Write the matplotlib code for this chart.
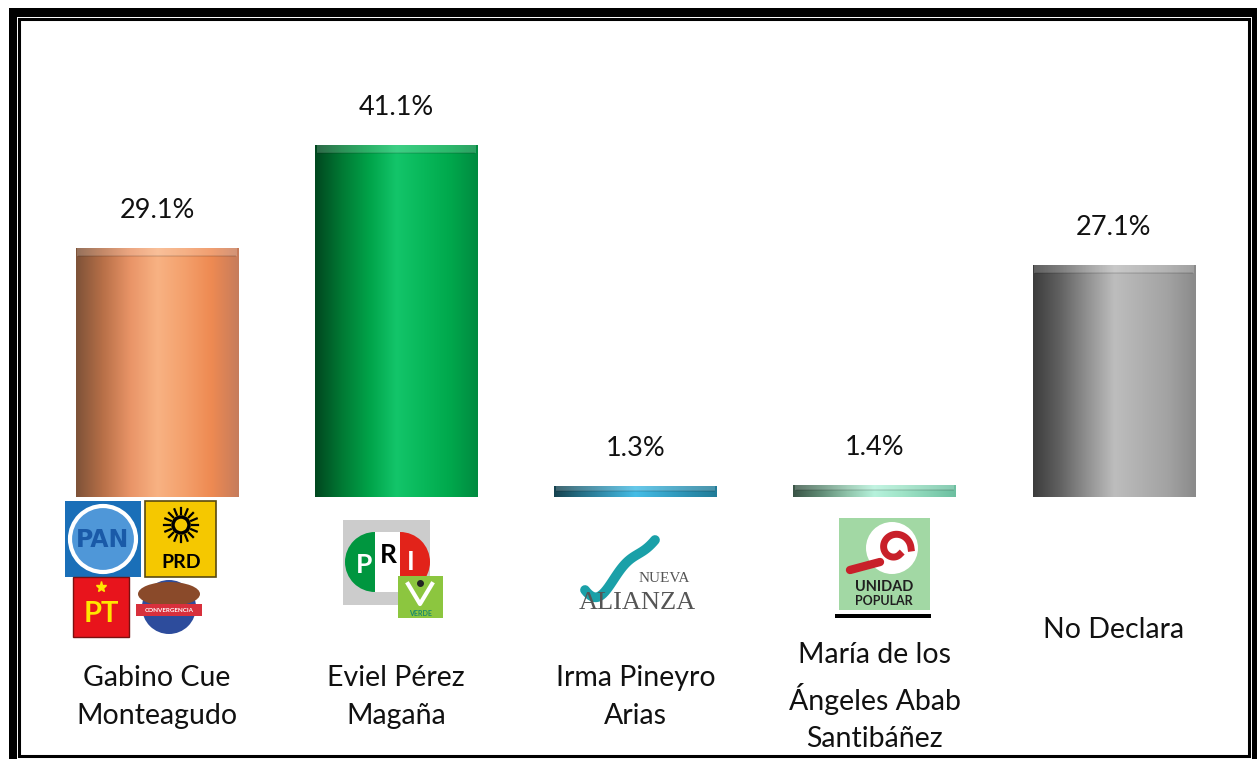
import numpy as np
import matplotlib
matplotlib.use("Agg")
import matplotlib.pyplot as plt
import matplotlib.transforms as mtransforms
from matplotlib.colors import LinearSegmentedColormap
from matplotlib.patches import Rectangle, Circle, Wedge, Ellipse

plt.rcParams['font.family'] = ['Lato', 'DejaVu Sans']

# data
candidatos = ['Gabino Cue\nMonteagudo', 'Eviel Pérez\nMagaña', 'Irma Pineyro\nArias',
              'María de los\nÁngeles Abab\nSantibáñez', 'No Declara']
porcentajes = [29.1, 41.1, 1.3, 1.4, 27.1]
etiquetas = ['29.1%', '41.1%', '1.3%', '1.4%', '27.1%']

# shading of each cylinder, left to right
gradientes = [
    ['#7e5238', '#b87048', '#e99467', '#f8b283', '#f4a06c', '#ee8a52', '#c67c5c'],
    ['#00471f', '#007a34', '#00a349', '#13c56a', '#08b85a', '#00a84c', '#008a40'],
    ['#16424f', '#256f86', '#3596b7', '#45bde6', '#37a6cb', '#2b8fb0', '#217c98'],
    ['#3a5446', '#5f8a74', '#8fc4aa', '#b6f2dc', '#a0e4c8', '#86d2b4', '#6cbfa0'],
    ['#3c3c3c', '#626262', '#919191', '#bdbdbd', '#b0b0b0', '#a2a2a2', '#8a8a8a'],
]

W, H = 1257, 759
fig = plt.figure(figsize=(W / 100, H / 100), dpi=100)

# overlay in pixel coordinates for frame and logos
ov = fig.add_axes([0, 0, 1, 1])
ov.set_xlim(0, W)
ov.set_ylim(H, 0)
ov.axis('off')

base_px = 497
top_px = 19
px_per_pct = 8.56
ax = fig.add_axes([37.5 / W, (H - base_px) / H, 1196 / W, (base_px - top_px) / H])
ax.set_xlim(-0.5, 4.5)
ax.set_ylim(0, (base_px - top_px) / px_per_pct)
ax.axis('off')
ax.patch.set_alpha(0)

x = np.arange(len(candidatos))
bars = ax.bar(x, porcentajes, width=0.68, color='none', edgecolor='none')

for b, cols in zip(bars, gradientes):
    cmap = LinearSegmentedColormap.from_list('g', cols)
    grad = np.linspace(0, 1, 256).reshape(1, -1)
    x0, y0 = b.get_x(), b.get_y()
    w, h = b.get_width(), b.get_height()
    im = ax.imshow(grad, cmap=cmap, aspect='auto', extent=(x0, x0 + w, y0, y0 + h),
                   interpolation='bicubic', zorder=2)
    im.set_clip_path(b)
    # top cap of the cylinder
    cap = min(0.9, h * 0.45)
    ax.add_patch(Rectangle((x0 + w * 0.01, y0 + h - cap), w * 0.98, cap,
                           facecolor='white', alpha=0.18, edgecolor='none', zorder=3))
    ax.plot([x0 + w * 0.02, x0 + w * 0.98], [y0 + h - cap] * 2, color='black',
            alpha=0.12, lw=1.2, zorder=3)

for xi, v, t in zip(x, porcentajes, etiquetas):
    ax.text(xi, v + 4.4, t, ha='center', va='center', fontsize=19.5, color='#111111')

# category labels (x from bar axis, y in pixels)
tr = mtransforms.blended_transform_factory(ax.transData, ov.transData)
label_y = [697, 697, 697, 697, 630]
for xi, name, yy in zip(x, candidatos, label_y):
    ov.text(xi, yy, name, transform=tr, ha='center', va='center', fontsize=20.5,
            linespacing=1.55, color='#111111')

# frame
ov.add_patch(Rectangle((9, 8), W, 9, color='black', lw=0))
ov.add_patch(Rectangle((9, 8), 8, H, color='black', lw=0))
ov.add_patch(Rectangle((1252, 8), 10, H, color='black', lw=0))
ov.add_patch(Rectangle((19, 19), 1230, 737, facecolor='none', edgecolor='black', lw=2.2))

# logos: PAN
ov.add_patch(Rectangle((65, 501), 76, 76, color='#1a6fb8', lw=0))
ov.add_patch(Circle((103, 539), 33, facecolor='#4f97d8', edgecolor='white', lw=3))
ov.text(103, 540, 'PAN', ha='center', va='center', fontsize=17, fontweight='bold',
        color='#1a5aa8', family='Liberation Sans Narrow')
# PRD
ov.add_patch(Rectangle((145, 501), 71, 76, facecolor='#f5c800', edgecolor='#5a4a10', lw=1.2))
ov.add_patch(Circle((181, 525), 8, facecolor='none', edgecolor='black', lw=2.5))
for a in np.linspace(0, 2 * np.pi, 16, endpoint=False):
    ov.plot([181 + 11 * np.cos(a), 181 + 17 * np.cos(a)],
            [525 + 11 * np.sin(a), 525 + 17 * np.sin(a)], color='black', lw=1.6)
ov.text(181, 562, 'PRD', ha='center', va='center', fontsize=14, fontweight='bold', color='black')
# PT
ov.add_patch(Rectangle((73, 577), 56, 60, facecolor='#e8141c', edgecolor='#7a1010', lw=1))
ov.text(101, 614, 'PT', ha='center', va='center', fontsize=21, fontweight='bold', color='#ffe600')
ov.plot(101, 587, marker='*', color='#ffe600', ms=8)
# Convergencia
ov.add_patch(Circle((169, 607), 27, color='#2d4c9c', lw=0))
ov.add_patch(Ellipse((169, 594), 62, 24, color='#8a4a2a', lw=0))
ov.add_patch(Rectangle((136, 604), 66, 12, color='#d8303c', lw=0))
ov.text(169, 610, 'CONVERGENCIA', ha='center', va='center', fontsize=4.5, color='white',
        fontweight='bold')
# PRI
ov.add_patch(Rectangle((343, 520), 87, 85, color='#cccccc', lw=0))
ov.add_patch(Wedge((375, 562), 30, 90, 270, color='#00963f', lw=0))
ov.add_patch(Rectangle((375, 532), 25, 60, color='white', lw=0))
ov.add_patch(Wedge((400, 562), 30, -90, 90, color='#e2231a', lw=0))
ov.text(364, 565, 'P', ha='center', va='center', fontsize=19, fontweight='bold', color='white')
ov.text(388, 555, 'R', ha='center', va='center', fontsize=19, fontweight='bold', color='black')
ov.text(411, 562, 'I', ha='center', va='center', fontsize=19, fontweight='bold', color='white')
# Verde
ov.add_patch(Rectangle((398, 576), 45, 42, color='#8cc63f', lw=0))
ov.plot([408, 420, 432], [584, 604, 584], color='white', lw=3)
ov.plot(420, 583, marker='o', color='#222222', ms=4)
ov.text(420, 613, 'VERDE', ha='center', va='center', fontsize=5, color='#1a8a6a', fontweight='bold')
# Nueva Alianza
t = np.linspace(0, 1, 40)
sx = 585 + 70 * t
sy = 590 - 50 * t ** 1.5 + 14 * np.sin(np.pi * t * 2.2) * (1 - t)
ov.plot(sx, sy, color='#1aa0a8', lw=7, solid_capstyle='round')
ov.text(664, 578, 'NUEVA', ha='center', va='center', fontsize=11, color='#555555',
        family='Liberation Serif')
ov.text(637, 603, 'ALIANZA', ha='center', va='center', fontsize=19, color='#555555',
        family='Liberation Serif')
# Unidad Popular
ov.add_patch(Rectangle((839, 518), 91, 92, color='#a2d8a4', lw=0))
ov.add_patch(Circle((892, 548), 26, color='white', lw=0))
th = np.linspace(0, 1.7 * np.pi, 60)
r = 16 - 8 * th / (1.7 * np.pi)
ov.plot(895 + r * np.cos(th), 548 - r * np.sin(th), color='#c8202a', lw=5)
ov.plot([850, 880], [570, 562], color='#c8202a', lw=6, solid_capstyle='round')
ov.text(884, 587, 'UNIDAD', ha='center', va='center', fontsize=10.5, fontweight='bold', color='#202020')
ov.text(884, 601, 'POPULAR', ha='center', va='center', fontsize=9, fontweight='bold', color='#202020')
ov.add_patch(Rectangle((835, 614), 96, 4, color='black', lw=0))

fig.savefig('out.png', dpi=100)
